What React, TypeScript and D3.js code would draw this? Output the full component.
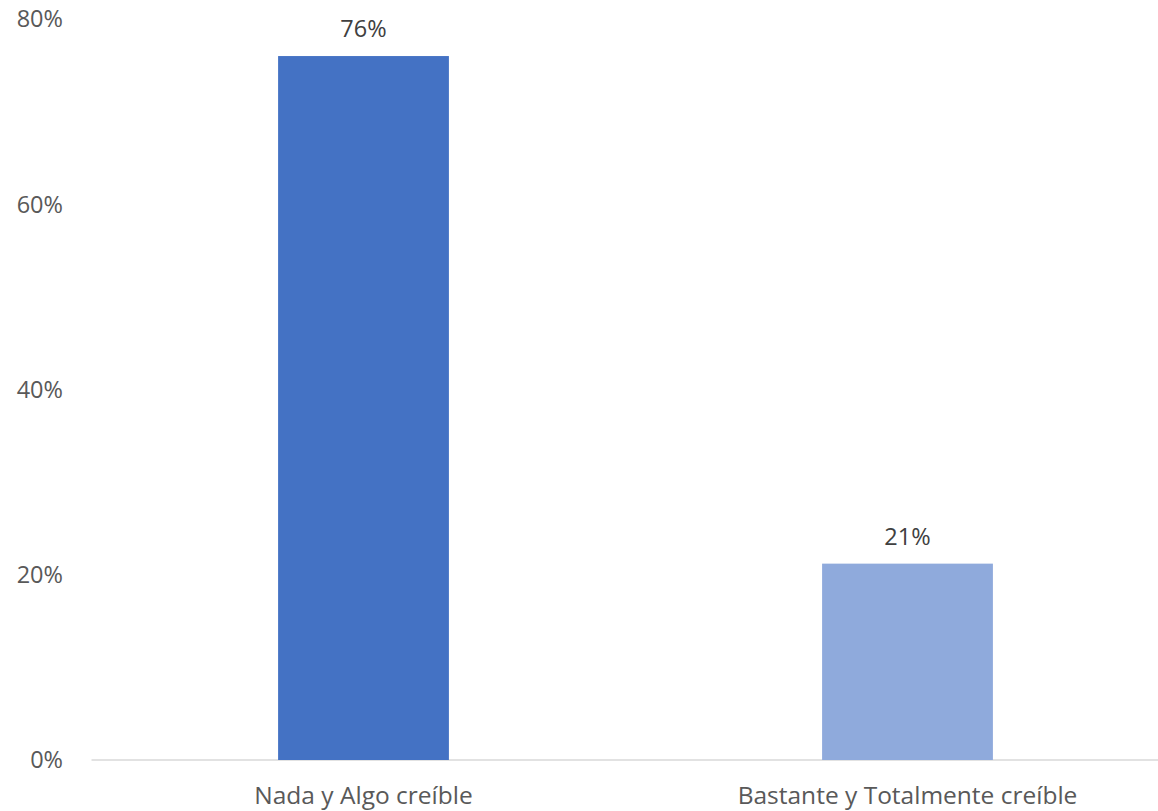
import React from "react";
import * as d3 from "d3";

const categories = ["Nada y Algo creíble", "Bastante y Totalmente creíble"];
const values = [0.76, 0.212];
const valueLabels = ["76%", "21%"];
const colors = ["#4472C4", "#8FAADC"];
const yTicks = [0, 0.2, 0.4, 0.6, 0.8];

export default function App() {
  const W = 1158, H = 811;
  const left = 91.5, right = 1179.5, top = 19, bottom = 760;
  const x = d3.scaleBand<string>().domain(categories).range([left, right]).paddingInner(0.686).paddingOuter(0.343);
  const y = d3.scaleLinear().domain([0, 0.8]).range([bottom, top]);
  const font = "'Open Sans', sans-serif";
  const fs = 23.5;
  const fsCat = 24.5;
  return (
    <svg width={W} height={H} style={{ position: "absolute", left: 0, top: 0, background: "#fff" }}>
      {yTicks.map((t) => (
        <text key={t} x={63} y={y(t)} dy="0.36em" textAnchor="end" fontFamily={font} fontSize={fs} fill="#595959">
          {d3.format(".0%")(t)}
        </text>
      ))}
      <line x1={left} x2={W} y1={bottom} y2={bottom} stroke="#D9D9D9" strokeWidth={1.5} />
      {categories.map((c, i) => (
        <g key={c}>
          <rect x={x(c)!} y={y(values[i])} width={x.bandwidth()} height={bottom - y(values[i])} fill={colors[i]} />
          <text x={x(c)! + x.bandwidth() / 2} y={y(values[i]) - 27.5} dy="0.36em" textAnchor="middle" fontFamily={font} fontSize={fs} fill="#404040">
            {valueLabels[i]}
          </text>
          <text x={x(c)! + x.bandwidth() / 2} y={804} textAnchor="middle" fontFamily={font} fontSize={fsCat} fill="#595959">
            {c}
          </text>
        </g>
      ))}
    </svg>
  );
}
